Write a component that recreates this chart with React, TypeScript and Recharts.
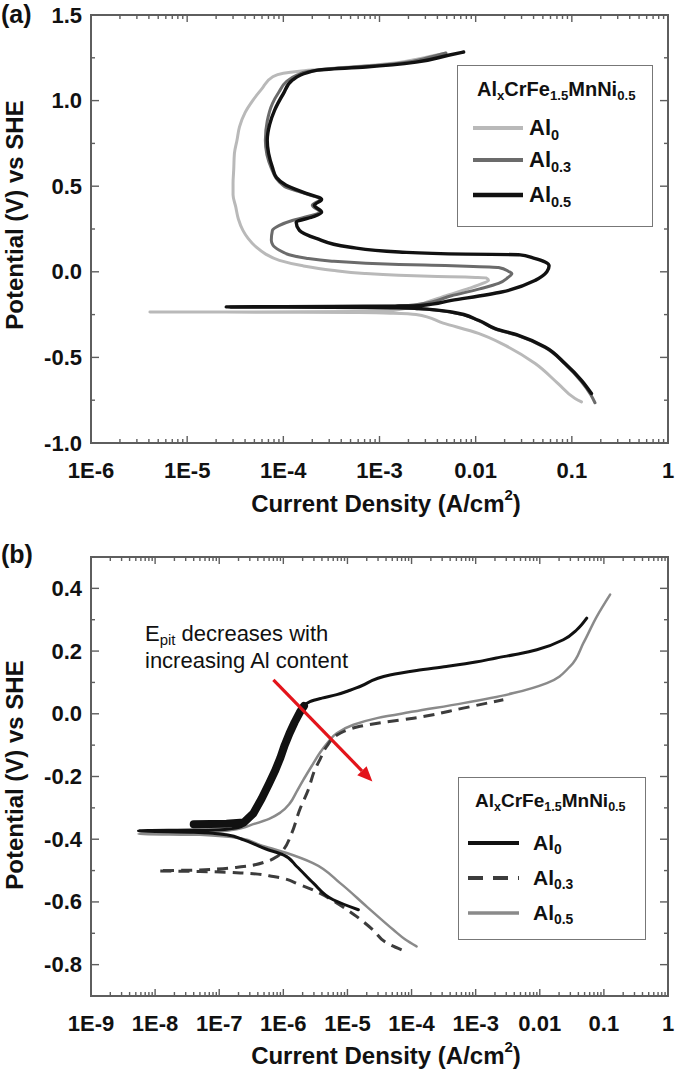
import React from 'react';
import { LineChart, Line, XAxis, YAxis, ReferenceArea, ReferenceLine, Legend } from 'recharts';

const FONT = '"Liberation Sans", Arial, Helvetica, sans-serif';
const FRAME = '#5e5e5e';
const INK = '#111111';

// ---------------- Panel (a) ----------------
const aXMajors = [1e-6, 1e-5, 1e-4, 1e-3, 1e-2, 1e-1, 1];
const aXLabels = ['1E-6', '1E-5', '1E-4', '1E-3', '0.01', '0.1', '1'];
const aYTicks = [-1, -0.75, -0.5, -0.25, 0, 0.25, 0.5, 0.75, 1, 1.25, 1.5];
const aYMajors = [-1, -0.5, 0, 0.5, 1, 1.5];
const aYLabels = ['-1.0', '-0.5', '0.0', '0.5', '1.0', '1.5'];

// [current density A/cm2, potential V] in scan order (potential rising)
const aAl0 = [
  [0.126, -0.76], [0.108, -0.74], [0.072, -0.653], [0.0416, -0.536], [0.0203, -0.43], [0.0107, -0.36],
  [4.6e-3, -0.3], [2.4e-3, -0.25], [1.4e-3, -0.242], [6e-4, -0.238], [1.5e-4, -0.236], [4.1e-6, -0.235],
  [1.5e-4, -0.234], [6e-4, -0.232], [1.3e-3, -0.226], [2.2e-3, -0.205], [3.2e-3, -0.175], [5.2e-3, -0.135],
  [8.5e-3, -0.097], [0.0118, -0.068], [0.0136, -0.05], [0.0128, -0.036], [0.01, -0.033], [7.8e-3, -0.031],
  [4e-3, -0.027], [1.58e-3, -0.02], [7e-4, -0.01], [3.2e-4, 0.009], [1.6e-4, 0.035], [9.1e-5, 0.067],
  [6.5e-5, 0.105], [5.2e-5, 0.145], [4.3e-5, 0.195], [3.8e-5, 0.242], [3.4e-5, 0.31], [3.2e-5, 0.379],
  [3.0e-5, 0.45], [3.0e-5, 0.516], [3.05e-5, 0.6], [3.1e-5, 0.692], [3.3e-5, 0.77], [3.5e-5, 0.846],
  [4.0e-5, 0.93], [4.8e-5, 1.0], [6.0e-5, 1.07], [7.7e-5, 1.138], [1.0e-4, 1.16], [1.47e-4, 1.172],
  [2.4e-4, 1.182], [3.5e-4, 1.19], [7.2e-4, 1.203], [1.6e-3, 1.222], [2.6e-3, 1.245], [3.6e-3, 1.262],
  [4.9e-3, 1.276],
];
const aAl03 = [
  [0.174, -0.765], [0.158, -0.72], [0.125, -0.64], [0.085, -0.54], [0.053, -0.443], [0.028, -0.374],
  [0.016, -0.334], [0.0107, -0.285], [5.6e-3, -0.237], [2.56e-3, -0.216], [1.5e-3, -0.21], [3.2e-4, -0.207],
  [2.8e-5, -0.205], [3.2e-4, -0.203], [1.5e-3, -0.2], [2.56e-3, -0.19], [5.6e-3, -0.14], [0.011, -0.1],
  [0.0173, -0.068], [0.0215, -0.035], [0.0238, -0.01], [0.022, 0.002], [0.0173, 0.025], [8e-3, 0.033],
  [3.5e-3, 0.038], [1.6e-3, 0.043], [7.2e-4, 0.05], [3.2e-4, 0.062], [1.73e-4, 0.079], [1.15e-4, 0.1],
  [9.1e-5, 0.126], [7.8e-5, 0.155], [7.5e-5, 0.184], [7.7e-5, 0.242], [9e-5, 0.27], [1.24e-4, 0.3],
  [1.7e-4, 0.32], [2.4e-4, 0.348], [2.0e-4, 0.388], [2.4e-4, 0.423], [1.66e-4, 0.458], [1.02e-4, 0.5],
  [7.5e-5, 0.605], [6.5e-5, 0.768], [6.8e-5, 0.88], [7.7e-5, 0.983], [9e-5, 1.05], [1.07e-4, 1.109],
  [1.4e-4, 1.15], [1.8e-4, 1.17], [3.0e-4, 1.185], [7.0e-4, 1.2], [1.6e-3, 1.218], [3.3e-3, 1.253],
  [4.9e-3, 1.278],
];
const aAl05 = [
  [0.16, -0.711], [0.126, -0.634], [0.0851, -0.536], [0.0527, -0.439], [0.0279, -0.371], [0.016, -0.332],
  [0.0107, -0.283], [5.6e-3, -0.235], [2.56e-3, -0.215], [1.6e-3, -0.21], [3.2e-4, -0.207], [2.55e-5, -0.205],
  [3.2e-4, -0.203], [1.6e-3, -0.2], [2.56e-3, -0.198], [5.6e-3, -0.167], [0.0186, -0.118], [0.0416, -0.05],
  [0.055, 0.0], [0.058, 0.035], [0.0527, 0.057], [0.04, 0.08], [0.0279, 0.1], [7.9e-3, 0.103],
  [1.6e-3, 0.116], [4.8e-4, 0.145], [2.2e-4, 0.195], [1.47e-4, 0.242], [1.36e-4, 0.29], [2.0e-4, 0.32],
  [2.5e-4, 0.348], [2.1e-4, 0.388], [2.5e-4, 0.423], [1.73e-4, 0.458], [1.07e-4, 0.505], [8.5e-5, 0.55],
  [7.7e-5, 0.61], [6.8e-5, 0.768], [7.2e-5, 0.86], [8.1e-5, 0.943], [1.0e-4, 1.04], [1.24e-4, 1.119],
  [2.2e-4, 1.177], [7.2e-4, 1.196], [2.4e-3, 1.225], [5.2e-3, 1.265], [7.5e-3, 1.284],
];

// ---------------- Panel (b) ----------------
const bXMajors = [1e-9, 1e-8, 1e-7, 1e-6, 1e-5, 1e-4, 1e-3, 1e-2, 1e-1, 1];
const bXLabels = ['1E-9', '1E-8', '1E-7', '1E-6', '1E-5', '1E-4', '1E-3', '0.01', '0.1', '1'];
const bYTicks = [-0.9, -0.8, -0.7, -0.6, -0.5, -0.4, -0.3, -0.2, -0.1, 0, 0.1, 0.2, 0.3, 0.4, 0.5];
const bYMajors = [-0.8, -0.6, -0.4, -0.2, 0, 0.2, 0.4];
const bYLabels = ['-0.8', '-0.6', '-0.4', '-0.2', '0.0', '0.2', '0.4'];

const bAl0 = [
  [1.48e-5, -0.625], [6.0e-6, -0.593], [2.94e-6, -0.54], [1.62e-6, -0.487], [1.0e-6, -0.45], [5.5e-7, -0.432],
  [2.4e-7, -0.402], [1.3e-7, -0.386], [4e-8, -0.378], [5.5e-9, -0.373], [4e-8, -0.371], [1.3e-7, -0.368],
  [2.2e-7, -0.36], [3.2e-7, -0.33], [4.3e-7, -0.274], [5.6e-7, -0.235], [7.0e-7, -0.2], [8.5e-7, -0.155],
  [1e-6, -0.115], [1.2e-6, -0.075], [1.43e-6, -0.04], [1.7e-6, -0.005], [1.94e-6, 0.018], [2.6e-6, 0.039],
  [4e-6, 0.05], [6.8e-6, 0.061], [1.1e-5, 0.075], [1.57e-5, 0.087], [4.6e-5, 0.124], [1.2e-4, 0.138],
  [3.5e-4, 0.151], [1e-3, 0.165], [2.1e-3, 0.178], [5e-3, 0.192], [9.0e-3, 0.204], [0.0233, 0.236],
  [0.0378, 0.268], [0.054, 0.305],
];
// noisy thick band of the Al0 anodic branch (centre line of the band)
const bAl0Band = [
  [4e-8, -0.352], [1.3e-7, -0.351], [2.4e-7, -0.347], [3.4e-7, -0.318], [4.6e-7, -0.27], [6e-7, -0.222],
  [7.5e-7, -0.18], [9e-7, -0.14], [1.05e-6, -0.1], [1.25e-6, -0.062], [1.5e-6, -0.027], [1.8e-6, 0.004],
  [2.1e-6, 0.025],
];
const bAl03 = [
  [7.0e-5, -0.753], [4.1e-5, -0.731], [2.5e-5, -0.689], [1.4e-5, -0.647], [7e-6, -0.605], [3.7e-6, -0.572],
  [1.8e-6, -0.545], [7.0e-7, -0.519], [2.4e-7, -0.508], [5.0e-8, -0.503], [1.12e-8, -0.501], [5e-8, -0.498],
  [2.4e-7, -0.487], [5.5e-7, -0.471], [8e-7, -0.455], [1e-6, -0.434], [1.35e-6, -0.381], [1.8e-6, -0.306],
  [2.45e-6, -0.242], [3.1e-6, -0.179], [3.7e-6, -0.147], [4.75e-6, -0.104], [7.7e-6, -0.062], [1.57e-5, -0.04],
  [4e-5, -0.026], [1.07e-4, -0.014], [6.4e-4, 0.018], [2.7e-3, 0.045],
];
const bAl05 = [
  [1.2e-4, -0.742], [8e-5, -0.72], [5.2e-5, -0.689], [2.0e-5, -0.615], [7.7e-6, -0.54], [2.9e-6, -0.476],
  [1.13e-6, -0.444], [4.3e-7, -0.418], [2.1e-7, -0.397], [5e-8, -0.386], [5.5e-9, -0.383], [5e-8, -0.381],
  [1.66e-7, -0.37], [3.4e-7, -0.352], [6e-7, -0.335], [9e-7, -0.315], [1.27e-6, -0.285], [1.6e-6, -0.25],
  [2.05e-6, -0.211], [2.8e-6, -0.165], [3.7e-6, -0.125], [5e-6, -0.09], [6.8e-6, -0.062], [1.24e-5, -0.035],
  [3e-5, -0.013], [1.07e-4, 0.007], [6.4e-4, 0.034], [3.9e-3, 0.066], [0.0129, 0.098], [0.0297, 0.151],
  [0.048, 0.226], [0.0774, 0.31], [0.125, 0.38],
];
const bArrow = [[7e-7, 0.108], [2.45e-5, -0.216]];

type Pt = { i: number; v: number };
const toPts = (rows: number[][]): Pt[] => rows.map(([i, v]) => ({ i, v }));

const logTicks = (majors: number[]) => {
  const out: number[] = [];
  majors.forEach((m, k) => {
    out.push(m);
    if (k < majors.length - 1) for (let j = 2; j <= 9; j++) out.push(m * j);
  });
  return out;
};

const findIdx = (list: number[], v: number) =>
  list.findIndex((m) => (m === 0 ? Math.abs(v) < 1e-9 : Math.abs(m - v) <= Math.abs(m) * 1e-6));

// ---------- layout ----------
const W = 675;
const PL = 91;
const PR = 7;
const PW = W - PL - PR;
const A_H = 540, A_TOP = 15, A_BOT = 97;
const A_PH = A_H - A_TOP - A_BOT;
const B_H = 536, B_TOP = 17, B_BOT = 80;
const B_PH = B_H - B_TOP - B_BOT;

const makeXTick = (majors: number[], labels: string[], plotH: number, labelDy: number, fs: number) => (props: any) => {
  const { x, y, payload } = props;
  const k = findIdx(majors, payload.value);
  const len = k >= 0 ? 7 : 4;
  return (
    <g>
      <line x1={x} x2={x} y1={y} y2={y - len} stroke={FRAME} strokeWidth={1.4} />
      <line x1={x} x2={x} y1={y - plotH} y2={y - plotH + len} stroke={FRAME} strokeWidth={1.4} />
      {k >= 0 && (
        <text x={x} y={y + labelDy} textAnchor="middle" dominantBaseline="central" fontFamily={FONT} fontWeight={700} fontSize={fs} fill={INK}>
          {labels[k]}
        </text>
      )}
    </g>
  );
};

const makeYTick = (majors: number[], labels: string[], plotW: number, fs: number) => (props: any) => {
  const { x, y, payload } = props;
  const k = findIdx(majors, payload.value);
  const len = k >= 0 ? 8 : 4;
  return (
    <g>
      <line x1={x} x2={x + len} y1={y} y2={y} stroke={FRAME} strokeWidth={1.4} />
      <line x1={x + plotW} x2={x + plotW - len} y1={y} y2={y} stroke={FRAME} strokeWidth={1.4} />
      {k >= 0 && (
        <text x={x - 9} y={y} textAnchor="end" dominantBaseline="central" fontFamily={FONT} fontWeight={700} fontSize={fs} fill={INK}>
          {labels[k]}
        </text>
      )}
    </g>
  );
};

const xTitle = (y: number) => () => (
  <text x={386} y={y} textAnchor="middle" dominantBaseline="central" fontFamily={FONT} fontWeight={700} fontSize={24} fill={INK}>
    Current Density (A/cm<tspan fontSize={15} dy={-9}>2</tspan>
    <tspan dy={9}>)</tspan>
  </text>
);

const yTitle = (cy: number) => () => (
  <text x={14} y={cy} transform={`rotate(-90 14 ${cy})`} textAnchor="middle" dominantBaseline="central" fontFamily={FONT} fontWeight={700} fontSize={24} fill={INK}>
    Potential (V) vs SHE
  </text>
);

const Sub = ({ children }: { children: React.ReactNode }) => (
  <sub style={{ fontSize: '0.66em', verticalAlign: '-0.32em', lineHeight: 0 }}>{children}</sub>
);

type Item = { sub: string; color: string; width: number; dash?: string };

const legendItemsA: Item[] = [
  { sub: '0', color: '#b9b9b9', width: 3 },
  { sub: '0.3', color: '#6b6b6b', width: 3 },
  { sub: '0.5', color: '#111111', width: 3.4 },
];
const legendItemsB: Item[] = [
  { sub: '0', color: '#111111', width: 3.2 },
  { sub: '0.3', color: '#3c3c3c', width: 3, dash: '15 10' },
  { sub: '0.5', color: '#8a8a8a', width: 2.6 },
];

const LegendBox = (p: {
  w: number; h: number; titleLeft: number; titleTop: number; titleFs: number;
  rows: number[]; lineX0: number; lineX1: number; labelX: number; itemFs: number; items: Item[];
}) => (
  <div style={{ position: 'relative', width: p.w, height: p.h, border: '1.5px solid #777', boxSizing: 'border-box', background: '#fff', fontFamily: FONT, fontWeight: 700, color: INK }}>
    <div style={{ position: 'absolute', left: p.titleLeft, top: p.titleTop - 12, fontSize: p.titleFs, lineHeight: '24px', whiteSpace: 'nowrap' }}>
      Al<Sub>x</Sub>CrFe<Sub>1.5</Sub>MnNi<Sub>0.5</Sub>
    </div>
    {p.items.map((it, k) => (
      <React.Fragment key={k}>
        <svg style={{ position: 'absolute', left: p.lineX0, top: p.rows[k] - 6 }} width={p.lineX1 - p.lineX0} height={12}>
          <line x1={0} y1={6} x2={p.lineX1 - p.lineX0} y2={6} stroke={it.color} strokeWidth={it.width + 1} strokeDasharray={it.dash} />
        </svg>
        <div style={{ position: 'absolute', left: p.labelX, top: p.rows[k] - 13, fontSize: p.itemFs, lineHeight: '26px', whiteSpace: 'nowrap' }}>
          Al<Sub>{it.sub}</Sub>
        </div>
      </React.Fragment>
    ))}
  </div>
);

const Arrow = (props: any) => {
  const { x1, y1, x2, y2 } = props;
  if (![x1, y1, x2, y2].every((n) => typeof n === 'number' && isFinite(n))) return null;
  const ang = Math.atan2(y2 - y1, x2 - x1);
  const hl = 15, hw = 6.5;
  const bx = x2 - hl * Math.cos(ang), by = y2 - hl * Math.sin(ang);
  const nx = -Math.sin(ang), ny = Math.cos(ang);
  return (
    <g>
      <line x1={x1} y1={y1} x2={bx} y2={by} stroke="#e3141b" strokeWidth={3.2} />
      <polygon points={`${x2},${y2} ${bx + nx * hw},${by + ny * hw} ${bx - nx * hw},${by - ny * hw}`} fill="#e3141b" />
    </g>
  );
};

const letterStyle: React.CSSProperties = {
  position: 'absolute', left: 1, fontFamily: FONT, fontWeight: 700, fontSize: 25, lineHeight: '28px', color: INK,
};

const common = { dot: false, activeDot: false, isAnimationActive: false, strokeLinejoin: 'round' as const };

export default function App() {
  const a0 = toPts(aAl0), a3 = toPts(aAl03), a5 = toPts(aAl05);
  const b0 = toPts(bAl0), b0band = toPts(bAl0Band), b3 = toPts(bAl03), b5 = toPts(bAl05);
  return (
    <div style={{ position: 'absolute', left: 0, top: 0, width: W, height: 1076, background: '#fff', overflow: 'hidden' }}>
      <div style={{ position: 'absolute', left: 0, top: 0 }}>
        <LineChart width={W} height={A_H} margin={{ top: A_TOP, right: PR, bottom: A_BOT - 1, left: PL - 1 }}>
          <XAxis dataKey="i" type="number" scale="log" domain={[1e-6, 1]} allowDataOverflow ticks={logTicks(aXMajors)} interval={0}
            height={1} tickSize={0} tickMargin={0} axisLine={false} tickLine={false}
            tick={makeXTick(aXMajors, aXLabels, A_PH, 27, 22)} label={xTitle(A_TOP + A_PH + 60)} />
          <YAxis type="number" domain={[-1, 1.5]} allowDataOverflow ticks={aYTicks} interval={0}
            width={1} tickSize={0} tickMargin={0} axisLine={false} tickLine={false}
            tick={makeYTick(aYMajors, aYLabels, PW, 22)} label={yTitle(215)} />
          <ReferenceArea x1={1e-6} x2={1} y1={-1} y2={1.5} fill="none" stroke={FRAME} strokeWidth={2} ifOverflow="visible" />
          <Line data={a0} dataKey="v" type="monotoneY" stroke="#b9b9b9" strokeWidth={3} strokeLinecap="round" {...common} />
          <Line data={a3} dataKey="v" type="monotoneY" stroke="#6b6b6b" strokeWidth={3} strokeLinecap="round" {...common} />
          <Line data={a5} dataKey="v" type="monotoneY" stroke="#111111" strokeWidth={3.4} strokeLinecap="round" {...common} />
          <Legend layout="vertical" align="center" verticalAlign="middle"
            wrapperStyle={{ position: 'absolute', left: 457, top: 65, width: 196, height: 162 }}
            content={() => (
              <LegendBox w={196} h={162} titleLeft={19} titleTop={23} titleFs={20} rows={[62, 94, 129]} lineX0={15} lineX1={65} labelX={71} itemFs={22} items={legendItemsA} />
            )} />
        </LineChart>
        <div style={{ ...letterStyle, top: 0 }}>(a)</div>
      </div>
      <div style={{ position: 'absolute', left: 0, top: 540 }}>
        <LineChart width={W} height={B_H} margin={{ top: B_TOP, right: PR, bottom: B_BOT - 1, left: PL - 1 }}>
          <XAxis dataKey="i" type="number" scale="log" domain={[1e-9, 1]} allowDataOverflow ticks={logTicks(bXMajors)} interval={0}
            height={1} tickSize={0} tickMargin={0} axisLine={false} tickLine={false}
            tick={makeXTick(bXMajors, bXLabels, B_PH, 27, 22)} label={xTitle(B_TOP + B_PH + 59)} />
          <YAxis type="number" domain={[-0.9, 0.5]} allowDataOverflow ticks={bYTicks} interval={0}
            width={1} tickSize={0} tickMargin={0} axisLine={false} tickLine={false}
            tick={makeYTick(bYMajors, bYLabels, PW, 22)} label={yTitle(235)} />
          <ReferenceArea x1={1e-9} x2={1} y1={-0.9} y2={0.5} fill="none" stroke={FRAME} strokeWidth={2} ifOverflow="visible" />
          <Line data={b5} dataKey="v" type="monotoneY" stroke="#8a8a8a" strokeWidth={2.5} strokeLinecap="round" {...common} />
          <Line data={b3} dataKey="v" type="monotoneY" stroke="#3c3c3c" strokeWidth={3} strokeDasharray="11 7" {...common} />
          <Line data={b0} dataKey="v" type="monotoneY" stroke="#111111" strokeWidth={3} strokeLinecap="round" {...common} />
          <Line data={b0band} dataKey="v" type="linear" stroke="#111111" strokeWidth={8} strokeLinecap="round" legendType="none" {...common} />
          <ReferenceLine segment={[{ x: bArrow[0][0], y: bArrow[0][1] }, { x: bArrow[1][0], y: bArrow[1][1] }]} shape={(p: any) => <Arrow {...p} />} ifOverflow="visible" />
          <Legend layout="vertical" align="center" verticalAlign="middle"
            wrapperStyle={{ position: 'absolute', left: 458, top: 237, width: 188, height: 163 }}
            content={() => (
              <LegendBox w={188} h={163} titleLeft={16} titleTop={23} titleFs={19} rows={[65, 100, 135]} lineX0={9} lineX1={60} labelX={74} itemFs={21} items={legendItemsB} />
            )} />
        </LineChart>
        <div style={{ ...letterStyle, top: 0 }}>(b)</div>
        <div style={{ position: 'absolute', left: 145, top: 80, fontFamily: FONT, fontSize: 22, lineHeight: '27px', color: INK, whiteSpace: 'nowrap' }}>
          E<sub style={{ fontSize: '0.68em', verticalAlign: '-0.3em', lineHeight: 0 }}>pit</sub> decreases with<br />increasing Al content
        </div>
      </div>
    </div>
  );
}
